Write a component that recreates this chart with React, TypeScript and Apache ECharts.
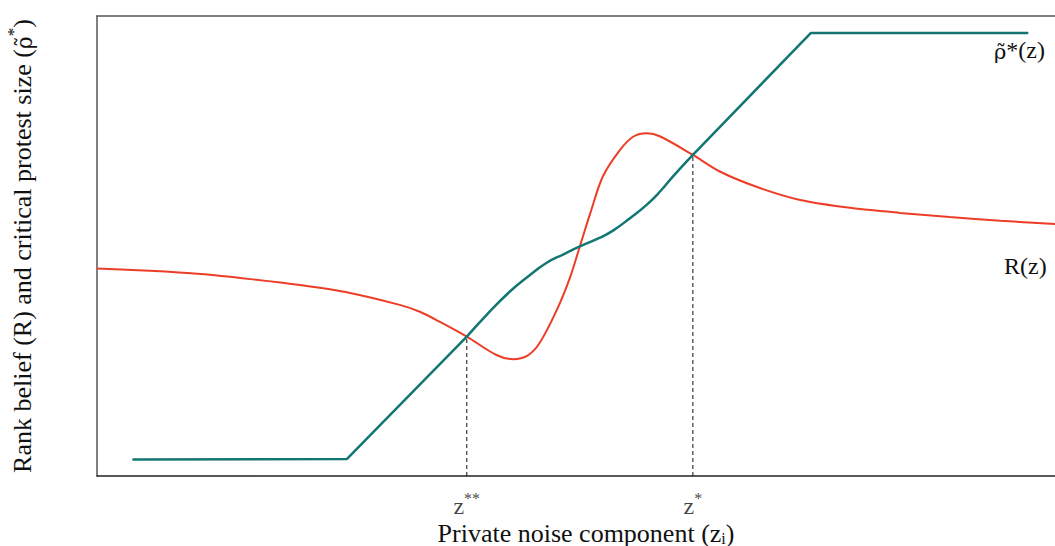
import React, { useEffect, useRef } from "react";
import * as echarts from "echarts";

// x: 0..100 across the plot, y: 0..100 from bottom to top
const tealLowX = [3.8, 26.1, 38.6];
const tealLowY = [3.6, 3.7, 30.3];
const tealMidX = [38.6, 40.7, 43.1, 44.9, 46.9, 48.7, 50.4, 52.5, 53.9, 55.6, 57.4, 58.8, 60.2, 62.2];
const tealMidY = [30.3, 35.1, 40.1, 43.2, 46.3, 48.2, 49.9, 51.8, 53.4, 56.0, 59.0, 61.9, 65.3, 69.8];
const tealHighX = [62.2, 74.5, 97.1];
const tealHighY = [69.8, 96.3, 96.3];

const redX = [0, 5.5, 10.8, 16.0, 21.2, 26.4, 31.6, 33.7, 35.8, 38.6, 41.7, 43.4, 44.9, 46.2, 48.0, 49.4, 50.4, 51.5, 52.8, 54.6, 56.0, 57.4, 58.8, 62.2, 65.0, 69.2, 73.4, 78.6, 83.8, 89.0, 94.3, 100];
const redY = [45.1, 44.6, 43.9, 42.8, 41.5, 39.8, 37.2, 35.7, 33.5, 30.3, 26.3, 25.4, 26.1, 28.9, 36.1, 43.3, 49.9, 57.2, 65.1, 70.9, 73.8, 74.5, 73.8, 69.8, 66.2, 62.6, 60.0, 58.3, 57.2, 56.3, 55.5, 54.8];

const markerNames = ["z**", "z*"];
const markerX = [38.6, 62.2];
const markerY = [30.3, 69.8];

const FONT = "'Liberation Serif', 'DejaVu Serif', serif";
const GREEK = "'DejaVu Serif', serif";
const TEAL = "#127672";
const RED = "#ee3d26";
const INK = "#111";

export default function App() {
  const ref = useRef<HTMLDivElement>(null);
  useEffect(() => {
    if (!ref.current) return;
    const chart = echarts.init(ref.current, undefined, { renderer: "svg" });
    const pts = (xs: number[], ys: number[]) => xs.map((x, i) => [x, ys[i]]);
    const dashed = markerX.map((x, i) => ({
      type: "line",
      data: [[x, 0], [x, markerY[i]]],
      symbol: "none",
      lineStyle: { color: INK, width: 1, type: [4, 3] },
      z: 1,
      silent: true,
    }));
    const tealSeries = [
      { data: pts(tealLowX, tealLowY), smooth: false },
      { data: pts(tealMidX, tealMidY), smooth: 0.5 },
      { data: pts(tealHighX, tealHighY), smooth: false },
    ].map((s) => ({
      type: "line",
      data: s.data,
      smooth: s.smooth,
      symbol: "none",
      lineStyle: { color: TEAL, width: 2.5, cap: "round", join: "round" },
      z: 3,
    }));
    const markerLabels = {
      type: "scatter",
      symbolSize: 0,
      data: markerX.map((x, i) => ({ value: [x, 0], name: markerNames[i] })),
      label: {
        show: true,
        position: "bottom",
        distance: 14,
        formatter: (p: any) => `{b|z}{sup|${p.name.slice(1)}}`,
        rich: {
          b: { fontFamily: FONT, fontSize: 24, color: INK, lineHeight: 28, verticalAlign: "bottom" },
          sup: { fontFamily: FONT, fontSize: 16, color: INK, lineHeight: 10, verticalAlign: "top" },
        },
      },
      silent: true,
    };
    const richA = { fontFamily: FONT, fontSize: 26, color: INK, lineHeight: 30, verticalAlign: "bottom" };
    chart.setOption({
      animation: false,
      grid: { left: 97, right: 0, top: 16, bottom: 70, outerBoundsMode: "none", containLabel: false },
      xAxis: [
        {
          type: "value",
          min: 0,
          max: 100,
          axisLine: { show: true, lineStyle: { color: "#222", width: 1.5 } },
          axisTick: { show: false },
          axisLabel: { show: false },
          splitLine: { show: false },
          name: "{a|Private noise component (z}{s|i}{a|)}",
          nameLocation: "middle",
          nameGap: 40,
          nameTextStyle: {
            padding: [0, 0, 0, 20],
            rich: {
              a: richA,
              s: { fontFamily: FONT, fontSize: 16, color: INK, lineHeight: 16, verticalAlign: "bottom" },
            },
          },
        },
        {
          type: "value",
          position: "top",
          min: 0,
          max: 100,
          axisLine: { show: true, onZero: false, lineStyle: { color: "#555", width: 1.5 } },
          axisTick: { show: false },
          axisLabel: { show: false },
          splitLine: { show: false },
        },
      ],
      yAxis: {
        type: "value",
        min: 0,
        max: 100,
        axisLine: { show: true, lineStyle: { color: "#555", width: 1.5 } },
        axisTick: { show: false },
        axisLabel: { show: false },
        splitLine: { show: false },
        name: "{a|Rank belief (R) and critical protest size (}{r|ρ\u0303}{p|*}{a|)}",
        nameLocation: "middle",
        nameRotate: 90,
        nameGap: 62,
        nameTextStyle: {
          rich: {
            a: richA,
            r: { fontFamily: GREEK, fontSize: 22, color: INK, lineHeight: 30, verticalAlign: "bottom" },
            p: { fontFamily: FONT, fontSize: 17, color: INK, lineHeight: 12, verticalAlign: "top" },
          },
        },
      },
      graphic: [
        {
          type: "text",
          left: 994,
          top: 38,
          style: {
            text: "{r|ρ\u0303}{a|*(z)}",
            rich: {
              r: { fontFamily: GREEK, fontSize: 21, fill: INK, lineHeight: 30, verticalAlign: "bottom" },
              a: { fontFamily: FONT, fontSize: 24, fill: INK, lineHeight: 30, verticalAlign: "bottom" },
            },
          },
        },
        { type: "text", left: 1004, top: 254, style: { text: "R(z)", fontFamily: FONT, fontSize: 24, fill: INK } },
      ],
      series: [
        ...dashed,
        {
          type: "line",
          data: pts(redX, redY),
          smooth: 0.3,
          symbol: "none",
          lineStyle: { color: RED, width: 2 },
          z: 2,
        },
        ...tealSeries,
        markerLabels,
      ],
    });
    return () => chart.dispose();
  }, []);
  return (
    <div
      ref={ref}
      style={{ position: "fixed", left: 0, top: 0, width: 1055, height: 546, background: "#fff" }}
    />
  );
}
